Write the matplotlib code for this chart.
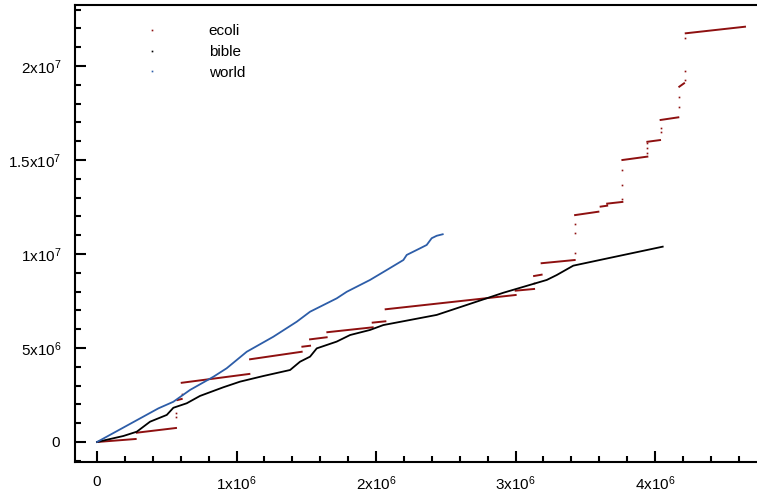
import numpy as np
import matplotlib
matplotlib.use('Agg')
import matplotlib.pyplot as plt
from matplotlib.lines import Line2D

plt.rcParams['font.family'] = ['Liberation Sans', 'DejaVu Sans']

# 1. Data (units of 1e6)
nan = np.nan

# ecoli: flat runs separated by jumps (nan breaks the line)
ecoli_x = [0.0, 0.277, nan, 0.285, 0.566, nan, 0.576, 0.607, nan, 0.607, 1.092, nan,
           1.097, 1.467, nan, 1.472, 1.527, nan, 1.527, 1.646, nan, 1.651, 1.976, nan,
           1.976, 2.067, nan, 2.069, 3.001, nan, 3.001, 3.133, nan, 3.133, 3.187, nan,
           3.187, 3.424, nan, 3.427, 3.594, nan, 3.610, 3.657, nan, 3.657, 3.766, nan,
           3.766, 3.945, nan, 3.945, 4.036, nan, 4.040, 4.167, nan, 4.174, 4.208, nan,
           4.220, 4.645]
ecoli_y = [0.0, 0.16, nan, 0.495, 0.745, nan, 2.23, 2.29, nan, 3.15, 3.62, nan,
           4.40, 4.80, nan, 5.07, 5.12, nan, 5.46, 5.57, nan, 5.84, 6.10, nan,
           6.35, 6.42, nan, 7.06, 7.82, nan, 8.05, 8.14, nan, 8.83, 8.90, nan,
           9.51, 9.68, nan, 12.07, 12.25, nan, 12.52, 12.57, nan, 12.68, 12.77, nan,
           15.00, 15.18, nan, 15.97, 16.06, nan, 17.13, 17.27, nan, 18.90, 19.08, nan,
           21.74, 22.09]
# isolated points inside the jumps
ecoli_jump_x = [0.566, 0.566, 0.607, 3.133, 3.424, 3.424, 3.424, 3.766, 3.766, 3.766,
                3.945, 3.945, 3.945, 4.040, 4.040, 4.170, 4.172, 4.212, 4.212, 4.212]
ecoli_jump_y = [1.33, 1.54, 2.54, 8.45, 10.05, 11.12, 11.60, 12.91, 13.67, 14.47,
                15.37, 15.64, 15.90, 16.51, 16.72, 17.84, 18.37, 19.26, 19.75, 21.47]

bible_x = [0.0, 0.189, 0.285, 0.380, 0.500, 0.547, 0.643, 0.738, 0.905, 1.025, 1.192,
           1.384, 1.455, 1.527, 1.575, 1.718, 1.814, 1.957, 2.052, 2.435, 2.650, 2.913,
           3.224, 3.295, 3.414, 3.629, 4.055]
bible_y = [0.0, 0.32, 0.548, 1.08, 1.44, 1.82, 2.06, 2.45, 2.91, 3.21, 3.51,
           3.83, 4.27, 4.54, 4.98, 5.34, 5.69, 5.96, 6.22, 6.76, 7.29, 7.94,
           8.62, 8.88, 9.38, 9.72, 10.39]

world_x = [0.0, 0.44, 0.547, 0.667, 0.834, 0.929, 1.073, 1.264, 1.432, 1.527, 1.718,
           1.790, 1.957, 2.077, 2.196, 2.220, 2.315, 2.363, 2.399, 2.435, 2.478]
world_y = [0.0, 1.79, 2.14, 2.77, 3.47, 3.92, 4.80, 5.60, 6.40, 6.93, 7.64,
           7.99, 8.62, 9.15, 9.68, 9.95, 10.30, 10.48, 10.84, 10.97, 11.05]

x_ticks = [0, 1e6, 2e6, 3e6, 4e6]
x_labels = ['0', '1x10^{6}', '2x10^{6}', '3x10^{6}', '4x10^{6}']
y_ticks = [0, 5e6, 1e7, 1.5e7, 2e7]
y_labels = ['0', '5x10^{6}', '1x10^{7}', '1.5x10^{7}', '2x10^{7}']

red = '#8e1010'
blue = '#2d5da8'

# 2. Plot
fig = plt.figure(figsize=(7.57, 4.97), dpi=100)
ax = fig.add_axes([75 / 757, 35 / 497, 1 - 75 / 757, 457 / 497])

ax.plot(np.array(ecoli_x) * 1e6, np.array(ecoli_y) * 1e6, color=red, lw=1.4)
ax.plot(np.array(ecoli_jump_x) * 1e6, np.array(ecoli_jump_y) * 1e6, ls='none',
        marker='s', ms=1.2, mew=0, color=red)
ax.plot(np.array(bible_x) * 1e6, np.array(bible_y) * 1e6, color='black', lw=1.3)
ax.plot(np.array(world_x) * 1e6, np.array(world_y) * 1e6, color=blue, lw=1.3)

ax.set_xlim(-0.158e6, 4.731e6)
ax.set_ylim(-1.064e6, 23.245e6)

ax.set_xticks(x_ticks)
ax.set_xticklabels(['$\\mathregular{' + s + '}$' for s in x_labels])
ax.set_yticks(y_ticks)
ax.set_yticklabels(['$\\mathregular{' + s + '}$' for s in y_labels])
ax.set_xticks(np.arange(0, 4.7e6, 2e5), minor=True)
ax.set_yticks(np.arange(-1e6, 23.2e6, 1e6), minor=True)

ax.tick_params(which='major', direction='in', length=8, width=1.5, labelsize=11, pad=10)
ax.tick_params(which='minor', direction='in', length=4.5, width=1.5)
ax.tick_params(axis='x', which='major', pad=9)

for side in ['left', 'bottom', 'top']:
    ax.spines[side].set_linewidth(1.5)
ax.spines['right'].set_visible(False)

# 3. Legend with tiny dot markers
handles = [Line2D([], [], ls='none', marker='s', ms=1.2, mew=0, color=c)
           for c in [red, 'black', blue]]
ax.legend(handles, ['ecoli', 'bible', 'world'], loc='upper left',
          bbox_to_anchor=(0.057, 0.975), frameon=False, fontsize=11,
          handlelength=4, handletextpad=1.7, labelspacing=0.45, borderpad=0)

fig.savefig('out.png', dpi=100)
